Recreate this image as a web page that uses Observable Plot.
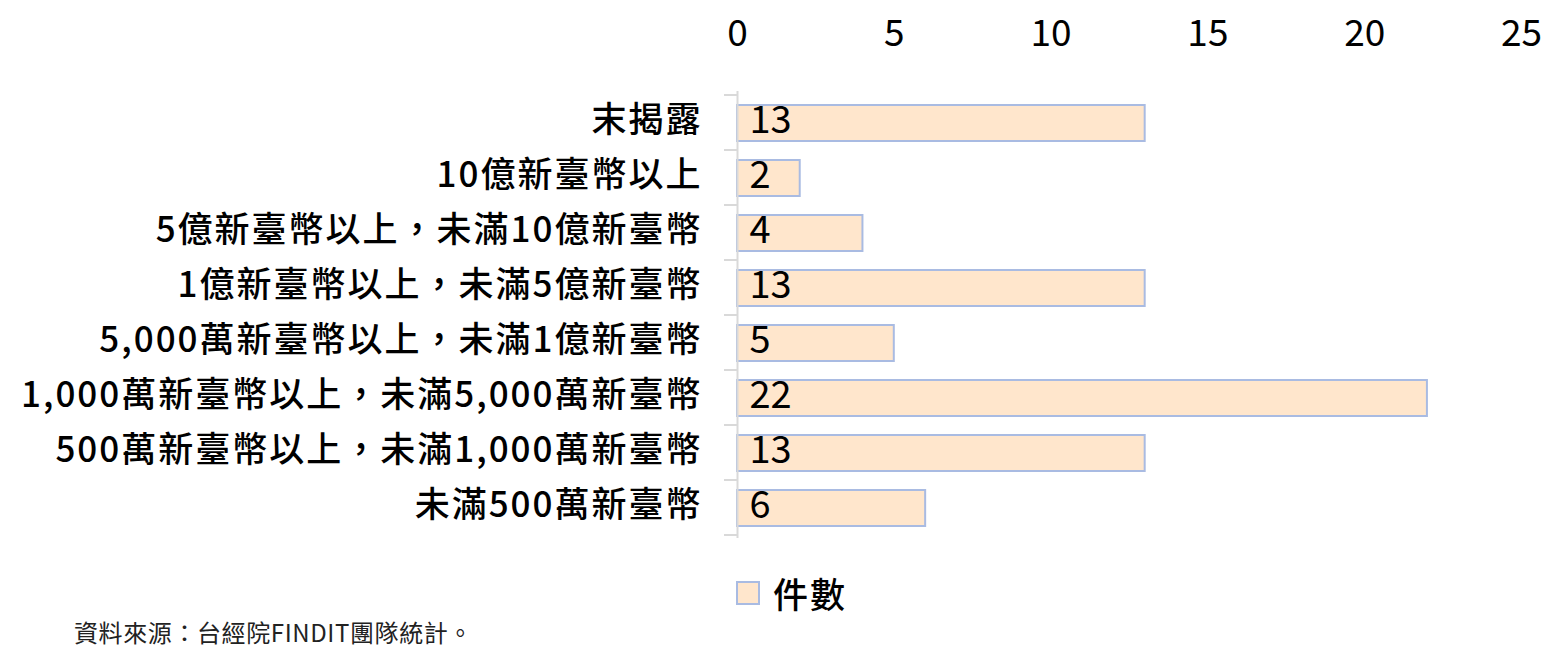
<!DOCTYPE html>
<html><head><meta charset="utf-8">
<script src="https://cdn.jsdelivr.net/npm/d3@7"></script>
<script src="https://cdn.jsdelivr.net/npm/@observablehq/plot@0.6"></script>
<style>
body{margin:0;background:#fff;font-family:"Noto Sans CJK TC","Noto Sans",sans-serif;}
#wrap{position:relative;width:1567px;height:662px;}
#legend{position:absolute;left:736px;top:567px;display:flex;align-items:center;font-size:35px;font-weight:500;color:#000;letter-spacing:2px;}
#legend .sw{width:20px;height:20px;background:#FFE6CC;border:2px solid #A9BBE2;margin-right:13px;}
#caption{position:absolute;left:74px;top:614px;font-size:24px;color:#222;letter-spacing:0.6px;}
g[aria-label="y-axis tick label"] text{letter-spacing:2px;}
</style></head>
<body><div id="wrap"><div id="chart"></div>
<div id="legend"><span class="sw"></span><span>件數</span></div>
<div id="caption">資料來源：台經院FINDIT團隊統計。</div></div>
<script>
const categories = ["末揭露","10億新臺幣以上","5億新臺幣以上，未滿10億新臺幣","1億新臺幣以上，未滿5億新臺幣","5,000萬新臺幣以上，未滿1億新臺幣","1,000萬新臺幣以上，未滿5,000萬新臺幣","500萬新臺幣以上，未滿1,000萬新臺幣","未滿500萬新臺幣"];
const counts = [13,2,4,13,5,22,13,6];
const xTicks = [0,5,10,15,20,25];
const data = categories.map((c,i)=>({category:c,value:counts[i]}));

const chart = Plot.plot({
  width:1567, height:560,
  marginTop:91, marginBottom:22, marginLeft:737, marginRight:46,
  style:{fontFamily:'"Noto Sans CJK TC","Noto Sans",sans-serif', color:"#000", background:"#fff"},
  x:{domain:[0,25]},
  y:{domain:categories, padding:0},
  marks:[
    Plot.axisX({anchor:"top", ticks:xTicks, tickSize:0, tickPadding:46, fontSize:37, label:null, tickFormat:d=>String(d)}),
    Plot.axisY({tickSize:0, tickPadding:35, fontSize:35, fontWeight:500, dy:-2, label:null}),
    Plot.barX(data,{x:"value", y:"category", fill:"#FFE6CC", stroke:"#A9BBE2", strokeWidth:2, insetTop:10, insetBottom:9}),
    Plot.text(data,{x:0, y:"category", text:d=>String(d.value), textAnchor:"start", dx:12, dy:-2, fontSize:38, fill:"#000"}),
    Plot.ruleX([0],{stroke:"#D9D9D9", strokeWidth:2})
  ]
});
document.getElementById("chart").appendChild(chart);

// band-boundary ticks on the y axis, positioned with Plot's own scales
const ys = chart.scale("y"), xs = chart.scale("x");
const x0 = xs.apply(0);
const bounds = categories.map(c=>ys.apply(c)).concat([ys.apply(categories[categories.length-1]) + ys.bandwidth]);
const svg = d3.select(chart.tagName.toLowerCase()==="svg" ? chart : chart.querySelector("svg"));
svg.append("g").selectAll("line").data(bounds).join("line")
  .attr("x1", x0-13).attr("x2", x0).attr("y1", d=>d).attr("y2", d=>d)
  .attr("stroke","#D9D9D9").attr("stroke-width",2);
</script></body></html>
